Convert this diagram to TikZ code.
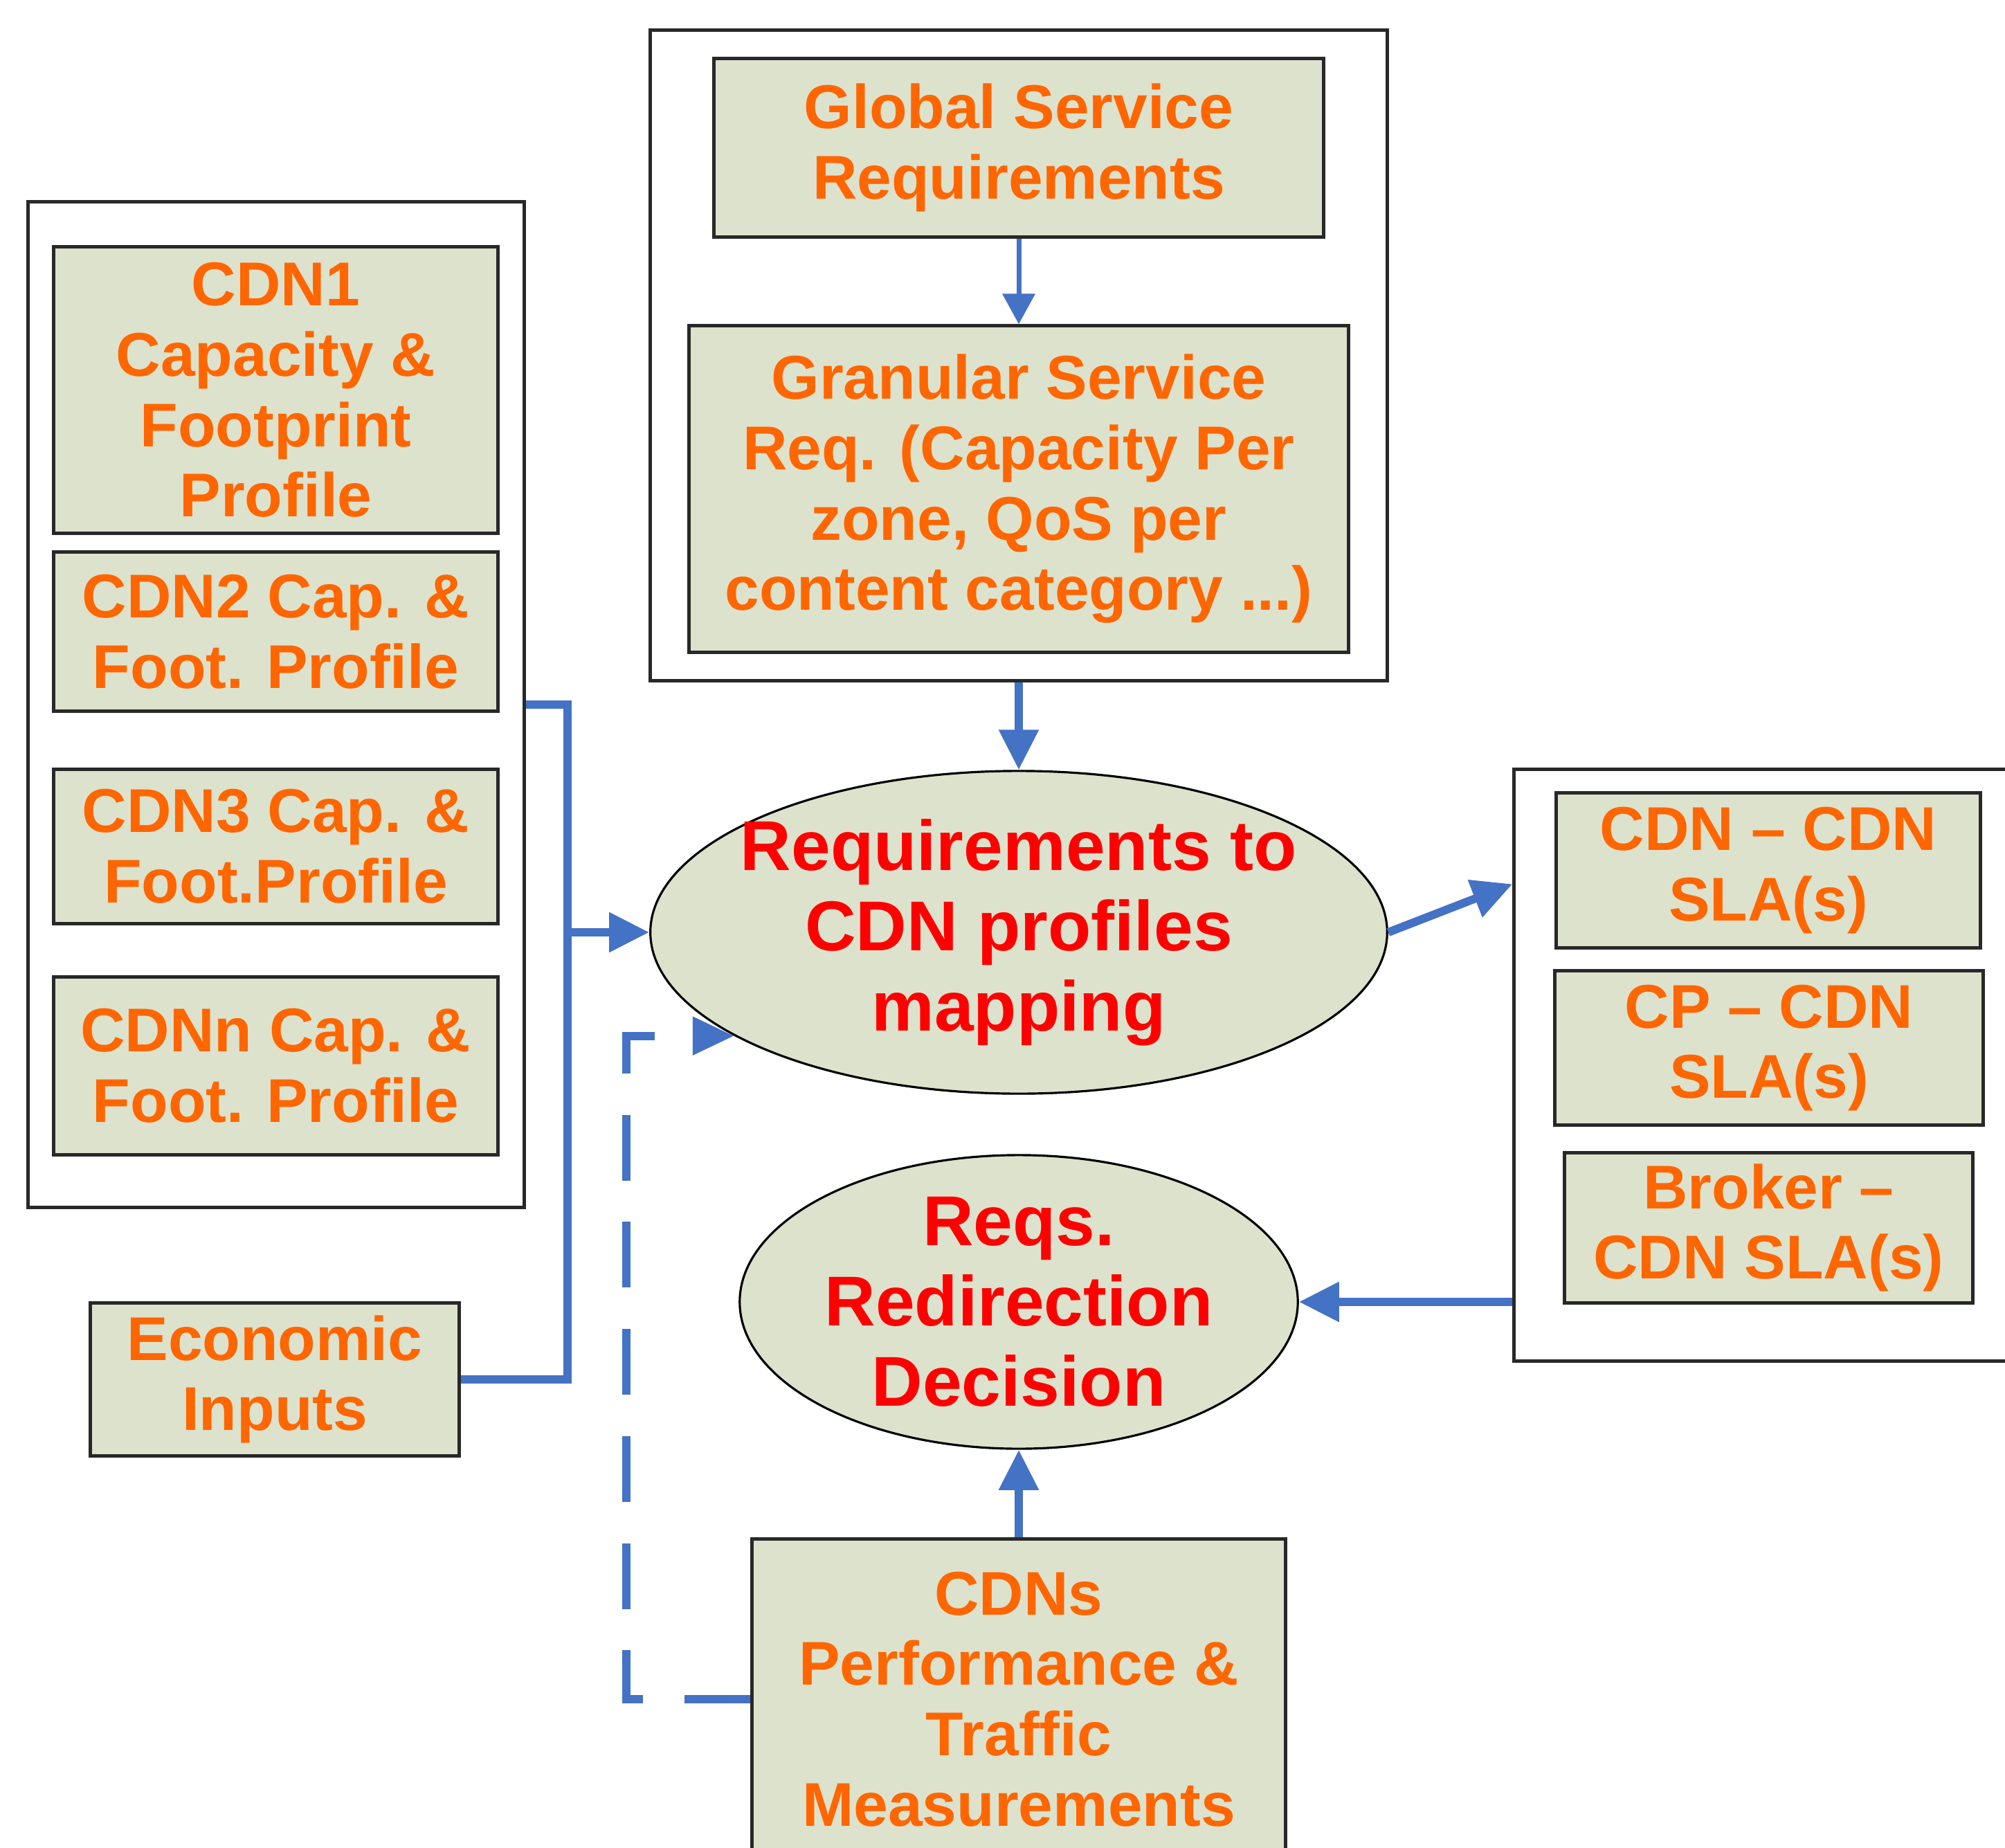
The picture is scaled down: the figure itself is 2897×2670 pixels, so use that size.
\documentclass[tikz,border=0pt]{standalone}
\usepackage{fontspec}
\setmainfont{Liberation Sans}
\usetikzlibrary{arrows.meta,shapes.geometric,calc}
\definecolor{boxfill}{RGB}{221,226,204}
\definecolor{txtorange}{RGB}{255,102,0}
\definecolor{txtred}{RGB}{255,0,0}
\definecolor{connblue}{RGB}{68,114,196}
\definecolor{edge}{RGB}{40,40,40}
\begin{document}
\begin{tikzpicture}[x=0.01cm,y=-0.01cm,
 frame/.style={draw=edge,line width=1.4pt,fill=white,rectangle,inner sep=0pt},
 infobox/.style={draw=edge,line width=1.4pt,fill=boxfill,rectangle,inner sep=0pt,align=center,text=txtorange,font=\bfseries\fontsize{25.4}{28.9}\selectfont},
 procell/.style={draw=black,line width=0.9pt,fill=boxfill,ellipse,inner sep=-0.5cm,align=center,text=txtred,font=\bfseries\fontsize{29}{33}\selectfont},
 conn/.style={draw=connblue,line width=3.4pt,-{Triangle[length=0.58cm,width=0.55cm]}},
 thinconn/.style={draw=connblue,line width=2pt,-{Triangle[length=0.44cm,width=0.46cm]}},
 plainconn/.style={draw=connblue,line width=3.4pt},
 dashconn/.style={draw=connblue,line width=3.4pt,dash pattern=on 27pt off 17pt,-{Triangle[length=0.6cm,width=0.53cm]}}
]
\useasboundingbox (0,0) rectangle (2897,2670);
\fill[white] (0,0) rectangle (2897,2670);
\clip (0,0) rectangle (2897,2670);

% frames
\node[frame,minimum width=7.16cm,minimum height=14.52cm] (outerL) at (399,1018) {};
\node[frame,minimum width=10.65cm,minimum height=9.39cm] (outerT) at (1472,513.5) {};
\node[frame,minimum width=7.62cm,minimum height=8.54cm] (outerR) at (2569,1539) {};

% left column
\node[infobox,minimum width=6.41cm,minimum height=4.13cm] (cdn1) at (398.5,563.5) {CDN1\\Capacity \&\\Footprint\\Profile};
\node[infobox,minimum width=6.41cm,minimum height=2.29cm] (cdn2) at (398.5,912.5) {CDN2 Cap. \&\\Foot. Profile};
\node[infobox,minimum width=6.41cm,minimum height=2.22cm] (cdn3) at (398.5,1223) {CDN3 Cap. \&\\Foot.Profile};
\node[infobox,minimum width=6.41cm,minimum height=2.56cm] (cdnn) at (398.5,1540) {CDNn Cap. \&\\Foot. Profile};
\node[infobox,minimum width=5.32cm,minimum height=2.20cm] (econ) at (397,1993) {Economic\\Inputs};

% top
\node[infobox,minimum width=8.81cm,minimum height=2.57cm] (global) at (1472,213.5) {Global Service\\Requirements};
\node[infobox,minimum width=9.53cm,minimum height=4.71cm] (gran) at (1472,706.5) {Granular Service\\Req. (Capacity Per\\zone, QoS per\\content category ...)};

% ellipses
\node[procell,minimum width=10.64cm,minimum height=4.66cm] (ell1) at (1472,1347) {Requirements to\\CDN profiles\\mapping};
\node[procell,minimum width=8.06cm,minimum height=4.24cm] (ell2) at (1472,1881) {Reqs.\\Redirection\\Decision};

% right column
\node[infobox,minimum width=6.12cm,minimum height=2.23cm] (sla1) at (2555,1257.5) {CDN – CDN\\SLA(s)};
\node[infobox,minimum width=6.18cm,minimum height=2.22cm] (sla2) at (2556,1514) {CP – CDN\\SLA(s)};
\node[infobox,minimum width=5.89cm,minimum height=2.16cm] (sla3) at (2555.5,1774) {Broker –\\CDN SLA(s)};

% bottom
\node[infobox,minimum width=7.71cm,minimum height=4.62cm] (cdns) at (1472,2455) {CDNs\\Performance \&\\Traffic\\Measurements};

% connectors
\draw[thinconn] (global.south) -- (gran.north);
\draw[conn] (outerT.south) -- (ell1.north);
\coordinate (jn) at ($(outerL.east)+(60,0)$);
\draw[plainconn] (outerL.east) -- (jn) |- (econ.east);
\draw[conn] (jn |- ell1.west) -- (ell1.west);
\draw[conn] (ell1.east) -- ($(outerR.north west)+(0,168)$);
\draw[conn] (outerR.west |- ell2.east) -- (ell2.east);
\draw[conn] (cdns.north) -- (ell2.south);
\draw[dashconn] (cdns.west) -- ++(-179,0) |- (ell1.200.7);
\end{tikzpicture}
\end{document}
